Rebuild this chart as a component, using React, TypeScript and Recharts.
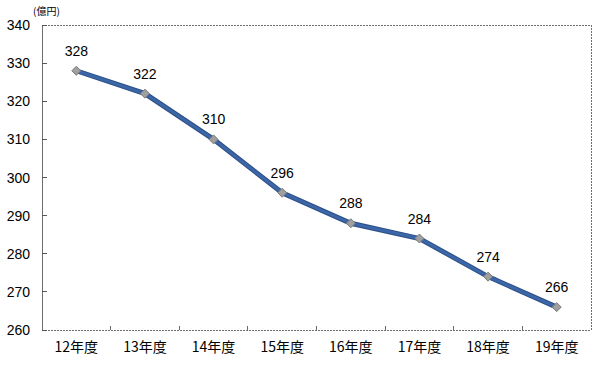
import React from "react";
import { LineChart, Line, XAxis, YAxis, LabelList, ReferenceArea } from "recharts";

const years = ["12年度", "13年度", "14年度", "15年度", "16年度", "17年度", "18年度", "19年度"];
const amounts = [328, 322, 310, 296, 288, 284, 274, 266];
const yTicks = [260, 270, 280, 290, 300, 310, 320, 330, 340];

const data = years.map((year, i) => ({ year, amount: amounts[i] }));

const GRAY = "#6e6e6e";
const LINE_BLUE = "#3b66a8";
const PLOT_LEFT = 42;
const PLOT_RIGHT = 591;
const BAND = (PLOT_RIGHT - PLOT_LEFT) / years.length;
const dotted = { stroke: GRAY, strokeDasharray: "2 1", shapeRendering: "crispEdges" };

function Diamond(props: any) {
  const { cx, cy } = props;
  if (cx == null || cy == null) return null;
  const r = 4.5;
  return (
    <polygon
      points={`${cx},${cy - r} ${cx + r},${cy} ${cx},${cy + r} ${cx - r},${cy}`}
      fill="#a0a0a0"
      stroke="#7a7a7a"
      strokeWidth={1}
    />
  );
}

// category label plus a small inward tick at the band's left edge
function YearTick(props: any) {
  const { x, y, payload, index } = props;
  const edge = x - BAND / 2;
  return (
    <g>
      {index > 0 && (
        <line x1={edge} x2={edge} y1={y - 14} y2={y - 18} stroke={GRAY} shapeRendering="crispEdges" />
      )}
      <text
        x={x}
        y={y}
        dy={8}
        textAnchor="middle"
        fill="#000"
        fontSize={14}
        fontFamily="'Noto Sans CJK JP', sans-serif"
      >
        {payload.value}
      </text>
    </g>
  );
}

function ValueTick(props: any) {
  const { x, y, payload } = props;
  return (
    <g>
      <path d={`M${x + 12},${y}H${x + 17}`} stroke="#555" strokeWidth={1} fill="none" shapeRendering="crispEdges" />
      <text
        x={x}
        y={y}
        dy={5}
        textAnchor="end"
        fill="#000"
        fontSize={14}
        fontFamily="'Liberation Sans', Arial, sans-serif"
      >
        {payload.value}
      </text>
    </g>
  );
}

export default function App() {
  return (
    <div style={{ position: "absolute", left: 0, top: 0, width: 600, height: 374, background: "#fff" }}>
      <div
        style={{
          position: "absolute",
          left: 33,
          top: 5,
          fontSize: 10,
          fontFamily: "'Noto Sans CJK JP', sans-serif",
          color: "#000",
          lineHeight: "12px",
        }}
      >
        (億円)
      </div>
      <LineChart width={600} height={374} data={data} margin={{ top: 25, right: 9, left: 0, bottom: 0 }}>
        <XAxis
          dataKey="year"
          scale="band"
          height={44}
          tickSize={0}
          tickMargin={14}
          tickLine={false}
          axisLine={dotted}
          tick={<YearTick />}
        />
        <YAxis
          width={42}
          domain={[260, 340]}
          ticks={yTicks}
          interval={0}
          tickSize={0}
          tickMargin={12}
          tickLine={false}
          axisLine={dotted}
          tick={<ValueTick />}
        />
        <ReferenceArea
          x1={years[0]}
          x2={years[years.length - 1]}
          y1={260}
          y2={340}
          fill="#ffffff"
          fillOpacity={0}
          {...dotted}
        />
        <Line
          dataKey="amount"
          stroke="#2d4f86"
          strokeWidth={5}
          dot={false}
          activeDot={false}
          isAnimationActive={false}
        />
        <Line
          dataKey="amount"
          stroke={LINE_BLUE}
          strokeWidth={3}
          dot={<Diamond />}
          activeDot={false}
          isAnimationActive={false}
        >
          <LabelList
            dataKey="amount"
            position="top"
            offset={15}
            fill="#000"
            fontSize={14}
            fontFamily="'Liberation Sans', Arial, sans-serif"
          />
        </Line>
      </LineChart>
    </div>
  );
}
